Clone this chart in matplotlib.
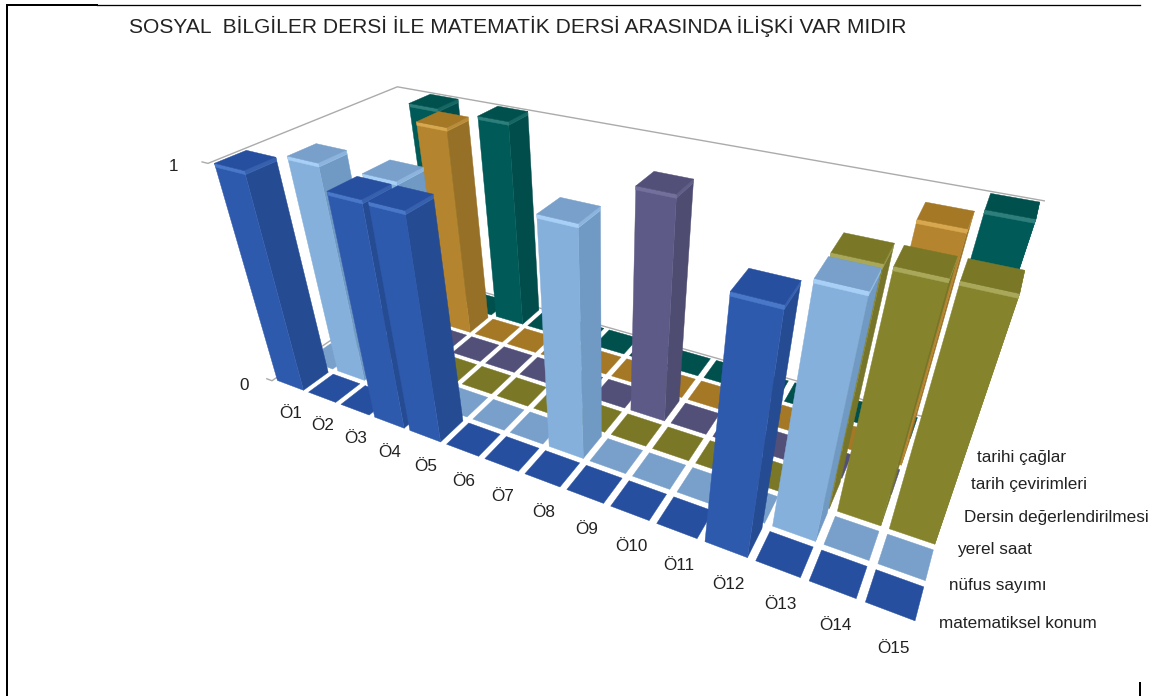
import numpy as np
import matplotlib
matplotlib.use("Agg")
import matplotlib.pyplot as plt
from matplotlib.lines import Line2D
from mpl_toolkits.mplot3d import proj3d
from mpl_toolkits.mplot3d.art3d import Poly3DCollection

plt.rcParams["font.family"] = ["Liberation Sans", "DejaVu Sans"]

title = "SOSYAL  BİLGİLER DERSİ İLE MATEMATİK DERSİ ARASINDA İLİŞKİ VAR MIDIR"
students = ["Ö1", "Ö2", "Ö3", "Ö4", "Ö5", "Ö6", "Ö7", "Ö8", "Ö9", "Ö10", "Ö11", "Ö12", "Ö13", "Ö14", "Ö15"]
series = ["matematiksel konum", "nüfus sayımı", "yerel saat", "Dersin değerlendirilmesi", "tarih çevirimleri", "tarihi çağlar"]

konum = [1, 0, 0, 1, 1, 0, 0, 0, 0, 0, 0, 1, 0, 0, 0]
nufus = [0, 1, 0, 1, 0, 0, 0, 1, 0, 0, 0, 0, 1, 0, 0]
yerel = [0, 0, 0, 0, 0, 0, 0, 0, 0, 0, 0, 0, 1, 1, 1]
dersin = [0, 0, 0, 0, 0, 0, 0, 0, 1, 0, 0, 0, 0, 0, 0]
cevirim = [0, 0, 1, 0, 0, 0, 0, 0, 0, 0, 0, 0, 0, 1, 0]
caglar = [0, 1, 0, 1, 0, 0, 0, 0, 0, 0, 0, 0, 0, 0, 1]
values = [konum, nufus, yerel, dersin, cevirim, caglar]

# front, side, top, highlight
colors = [
    ("#2E5AAE", "#254B93", "#274FA0", "#4A78C8"),
    ("#85B0DC", "#7099C4", "#78A0CA", "#A8D0F6"),
    ("#85842C", "#76752A", "#7A7826", "#A9A85A"),
    ("#5D5A87", "#4F4C72", "#524F79", "#73709C"),
    ("#B4842E", "#977027", "#A57825", "#D7A850"),
    ("#005A58", "#004D4B", "#00504E", "#2E7F7C"),
]

GAP = 0.08
STRIP = 0.015

# camera calibration: box coordinates -> picture pixels
cal_3d = [(0.08, 0.08, 1), (0.08, 0.08, 0), (0.92, 0.92, 1), (14.08, 0.08, 0), (14.92, 0.08, 0), (14.92, 0.92, 0),
          (14.08, 2.08, 1), (14.92, 2.08, 1), (14.08, 2.08, 0), (11.08, 0.08, 1), (11.08, 0.08, 0), (11.92, 0.92, 1),
          (7.08, 1.08, 0), (8.08, 3.08, 0), (3.08, 5.08, 1), (3.08, 5.08, 0), (14.08, 5.08, 1), (0, 6, 1), (15, 6, 1),
          (0, 0, 1), (0, 0, 0)]
cal_px = [(215, 164), (276, 380), (274, 158), (865, 603), (913, 621), (923, 587),
          (960, 277), (1022, 293), (889, 528), (730, 290), (704, 541), (799, 280),
          (548, 445), (632, 408), (479, 117), (497, 317), (988, 212), (395, 85), (1040, 200),
          (209, 163), (272, 380)]


def camera_matrix(ax):
    ax.apply_aspect()
    inv = ax.transData.inverted()
    rows = []
    for (x, y, z), (px, py) in zip(cal_3d, cal_px):
        u, v = inv.transform((px, 696 - py))
        rows.append([x, y, z, 1, 0, 0, 0, 0, -u * x, -u * y, -u * z, -u])
        rows.append([0, 0, 0, 0, x, y, z, 1, -v * x, -v * y, -v * z, -v])
    p = np.linalg.svd(np.array(rows, dtype=float))[2][-1].reshape(3, 4)
    if p[2] @ [7, 3, 0, 1] < 0:
        p = -p
    return np.vstack([p[0], p[1], [0, 0, 0, -1], p[2]])


def add_face(ax, verts, color, order, alpha=None):
    face = Poly3DCollection([verts], facecolors=color, edgecolors=color, linewidths=0.3, alpha=alpha)
    face.set_zorder(order)
    ax.add_collection3d(face)


def draw_bar(ax, col, row, height, palette, order):
    front, side, top, light = palette
    x0, x1 = col + GAP, col + 1 - GAP
    y0, y1 = row + GAP, row + 1 - GAP
    if height > 0:
        z = height - STRIP
        add_face(ax, [(x1, y0, 0), (x1, y1, 0), (x1, y1, height), (x1, y0, height)], side, order)
        add_face(ax, [(x0, y0, 0), (x1, y0, 0), (x1, y0, height), (x0, y0, height)], front, order + 0.1)
        add_face(ax, [(x1, y0, z), (x1, y1, z), (x1, y1, height), (x1, y0, height)], light, order + 0.2, alpha=0.5)
        add_face(ax, [(x0, y0, z), (x1, y0, z), (x1, y0, height), (x0, y0, height)], light, order + 0.3)
    add_face(ax, [(x0, y0, height), (x1, y0, height), (x1, y1, height), (x0, y1, height)], top, order + 0.4)


fig = plt.figure(figsize=(11.56, 6.96), dpi=100)
ax = fig.add_axes([0, (696 - 1156) / 2 / 696, 1, 1156 / 696], projection="3d")
ax.set_axis_off()
ax.computed_zorder = False
M = camera_matrix(ax)
ax.get_proj = lambda: M

n_rows = len(values)
n_cols = len(students)

# walls and ticks
wall = "#ABABAB"
for z in [0, 1]:
    ax.plot([-0.17, 0, 0, n_cols], [0, 0, n_rows, n_rows], [z, z, z, z], color=wall, lw=1, zorder=0)

order = 1
for row in reversed(range(n_rows)):
    for col in range(n_cols):
        draw_bar(ax, col, row, values[row][col], colors[row], order)
        order += 1


def label_at(text, x, y, z, dx, dy, size=12.3, **kw):
    u, v, _ = proj3d.proj_transform(x, y, z, M)
    ax.annotate(text, (u, v), xytext=(dx, dy), textcoords="offset pixels", annotation_clip=False,
                color="#222222", fontsize=size, zorder=1000, **kw)


label_at("0", -0.17, 0, 0, -23, -7, ha="center", va="center")
label_at("1", -0.17, 0, 1, -29, -5, ha="center", va="center")
for col, name in enumerate(students):
    label_at(name, col + 0.5, 0, 0, 3 + 0.15 * col, -26.5 - 0.55 * col, ha="center", va="center")
for row, name in enumerate(series):
    dy = -19 if row < 4 else -15
    dx = 15 if row < 3 else 17 - row
    label_at(name, n_cols, row + 0.5, 0, dx, dy, ha="left", va="center")

fig.text(129 / 1156, 1 - 26 / 696, title, fontsize=15.08, color="#222222", ha="left", va="center")

# frame of the pasted picture
for xs, ys, lw in [((7, 7), (5, 696), 2), ((7, 97), (5, 5), 2), ((97, 1140), (5, 5), 1.3), ((1140, 1140), (683, 696), 2)]:
    fig.add_artist(Line2D(np.array(xs) / 1156, 1 - np.array(ys) / 696, color="black", lw=lw * 0.72))

fig.savefig("out.png", dpi=100)
